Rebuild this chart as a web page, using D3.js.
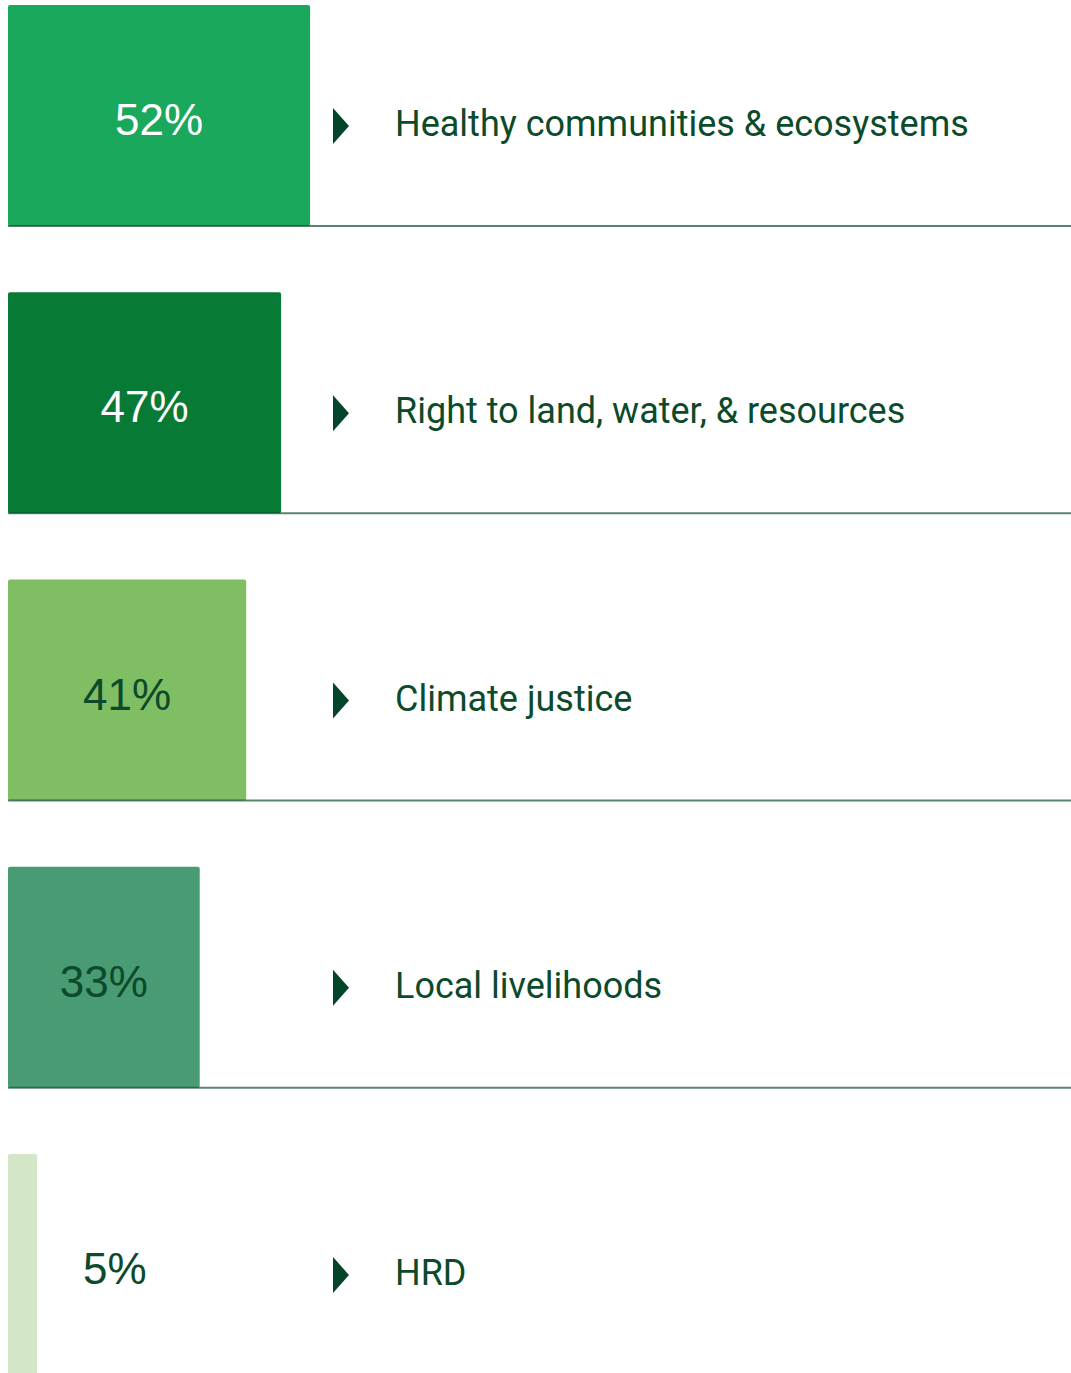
<!DOCTYPE html>
<html>
<head>
<meta charset="utf-8">
<script src="https://cdn.jsdelivr.net/npm/d3@7"></script>
<style>
  html, body { margin: 0; padding: 0; background: #ffffff; }
  svg { display: block; }
</style>
</head>
<body>
<svg id="chart" width="1071" height="1373"></svg>
<script>
// Share of grants by issue area
const categories = [
  "Healthy communities & ecosystems",
  "Right to land, water, & resources",
  "Climate justice",
  "Local livelihoods",
  "HRD"
];
const values = [52, 47, 41, 33, 5];
const barColors = ["#1aa85d", "#077a36", "#80be63", "#489b72", "#d3e6c7"];
const valueTextColors = ["#ffffff", "#ffffff", "#0b4a2a", "#0b4a2a", "#0b4a2a"];

const W = 1071, H = 1373;
const ink = "#0b4a2a";

const svg = d3.select("#chart");

// horizontal value scale: percent -> pixels
const x = d3.scaleLinear().domain([0, 100]).range([8, 589]);
// each row is anchored on its baseline rule
const base = d3.scalePoint().domain(categories).range([226, 1375]);

const barH = 221;

const rows = svg.selectAll("g.row")
  .data(categories.map((c, i) => ({ cat: c, v: values[i], i })))
  .join("g")
  .attr("class", "row");

rows.append("rect")
  .attr("x", x(0))
  .attr("y", d => base(d.cat) - barH)
  .attr("width", d => x(d.v) - x(0))
  .attr("height", barH)
  .attr("rx", 2)
  .attr("fill", d => barColors[d.i]);

// baseline rule across the full width
rows.append("line")
  .attr("x1", x(0))
  .attr("x2", W)
  .attr("y1", d => base(d.cat))
  .attr("y2", d => base(d.cat))
  .attr("stroke", ink)
  .attr("stroke-opacity", 0.68)
  .attr("stroke-width", 2);

// percentage label: centred in the bar, or beside it when the bar is narrow
rows.append("text")
  .attr("x", d => d.v >= 10 ? (x(0) + x(d.v)) / 2 : x(d.v) + 46)
  .attr("y", d => base(d.cat) - 91)
  .attr("text-anchor", d => d.v >= 10 ? "middle" : "start")
  .attr("font-family", "'Liberation Sans', Arial, sans-serif")
  .attr("font-size", 44)
  .attr("fill", d => valueTextColors[d.i])
  .text(d => d.v + "%");

// pointer triangle
rows.append("path")
  .attr("d", d => {
    const c = base(d.cat) - 100;
    return `M333,${c - 18}L349,${c}L333,${c + 18}Z`;
  })
  .attr("fill", "#03452a");

// category name
rows.append("text")
  .attr("x", 395)
  .attr("y", d => base(d.cat) - 90)
  .attr("font-family", "Roboto, sans-serif")
  .attr("font-size", 36)
  .attr("fill", ink)
  .text(d => d.cat);
</script>
</body>
</html>
